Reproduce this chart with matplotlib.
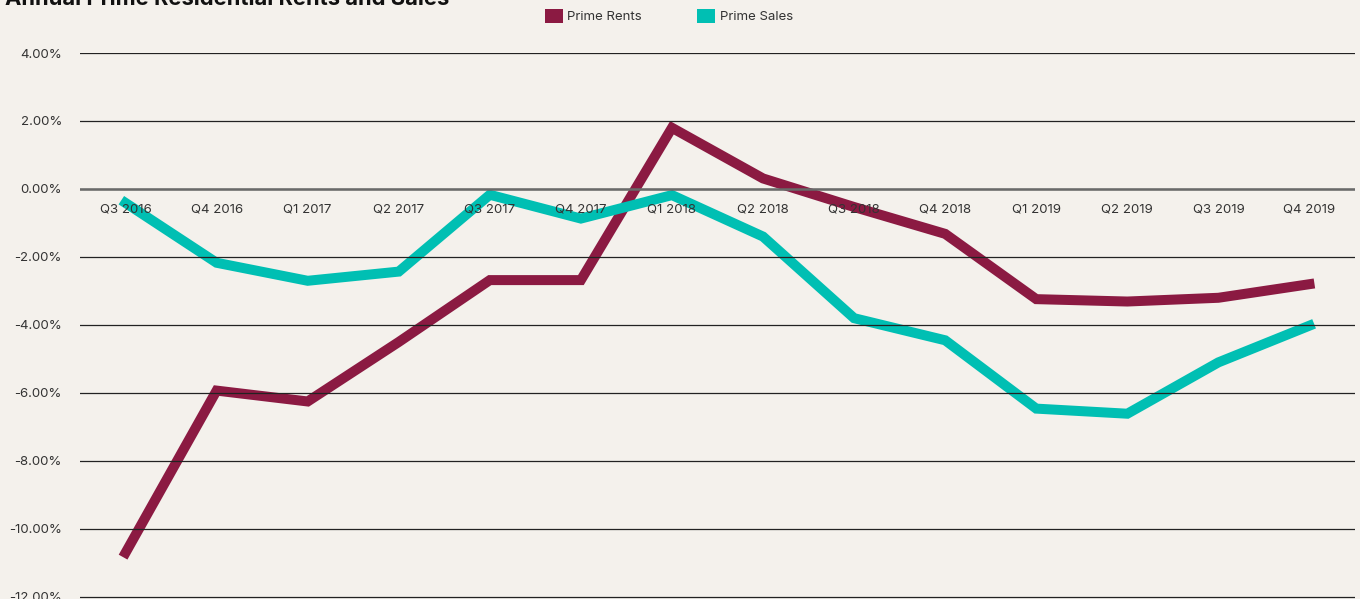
import matplotlib
matplotlib.use("Agg")
import matplotlib.pyplot as plt
from matplotlib.patches import Patch
from matplotlib.ticker import FuncFormatter, MultipleLocator

categories = ["Q3 2016", "Q4 2016", "Q1 2017", "Q2 2017", "Q3 2017", "Q4 2017",
              "Q1 2018", "Q2 2018", "Q3 2018", "Q4 2018", "Q1 2019", "Q2 2019",
              "Q3 2019", "Q4 2019"]
prime_rents = [-10.7, -5.93, -6.25, -4.5, -2.68, -2.68, 1.8, 0.31, -0.53, -1.32,
               -3.24, -3.31, -3.2, -2.8]
prime_sales = [-0.41, -2.17, -2.7, -2.43, -0.17, -0.87, -0.18, -1.4, -3.8, -4.45,
               -6.46, -6.61, -5.1, -4.02]

BG = "#F4F1EC"
RENTS = "#8B1A42"
SALES = "#00BFB3"
TXT = "#333333"

plt.rcParams['font.family'] = ['Inter', 'DejaVu Sans']

fig = plt.figure(figsize=(13.6, 5.99), dpi=100, facecolor=BG)
ax = fig.add_axes([80/1360, 0, 1275/1360, 546/599], facecolor=BG)
ax.set_axisbelow(False)

x = list(range(len(categories)))
ax.plot(x, prime_rents, color=RENTS, lw=7.2, solid_joinstyle='miter', zorder=1.5)
ax.plot(x, prime_sales, color=SALES, lw=7.2, solid_joinstyle='miter', zorder=1.6)

ax.set_xlim(-0.5, len(categories) - 0.5)
ax.set_ylim(-12.06, 4)
ax.set_yticks([4, 2, 0, -2, -4, -6, -8, -10, -12])
ax.yaxis.set_major_formatter(FuncFormatter(lambda v, p: f"{v:.2f}%"))
ax.grid(axis='y', color='#222222', lw=0.9)
ax.axhline(0, color='#6a6a6a', lw=1.8, zorder=2.6)

for s in ['top', 'right', 'left']:
    ax.spines[s].set_visible(False)
ax.spines['bottom'].set_position(('data', 0))
ax.spines['bottom'].set_visible(False)
ax.set_xticks(x)
ax.set_xticklabels(categories)
ax.tick_params(axis='x', length=0, pad=10.5, labelsize=9.5, colors=TXT)
ax.tick_params(axis='y', length=0, pad=13, labelsize=9.5, colors=TXT)

fig.text(5/1360, 1 - 5/599, "Annual Prime Residential Rents and Sales",
         fontsize=15.8, fontweight='bold', color='#111111', ha='left', va='baseline')

handles = [Patch(facecolor=RENTS, label="Prime Rents"),
           Patch(facecolor=SALES, label="Prime Sales")]
fig.legend(handles=handles, loc='center', bbox_to_anchor=(669/1360, 1 - 16/599),
           ncol=2, frameon=False, fontsize=9.5, handlelength=1.35, handleheight=1.35,
           handletextpad=0.35, columnspacing=4.2, labelcolor=TXT)

fig.savefig("out.png", dpi=100, facecolor=BG)
